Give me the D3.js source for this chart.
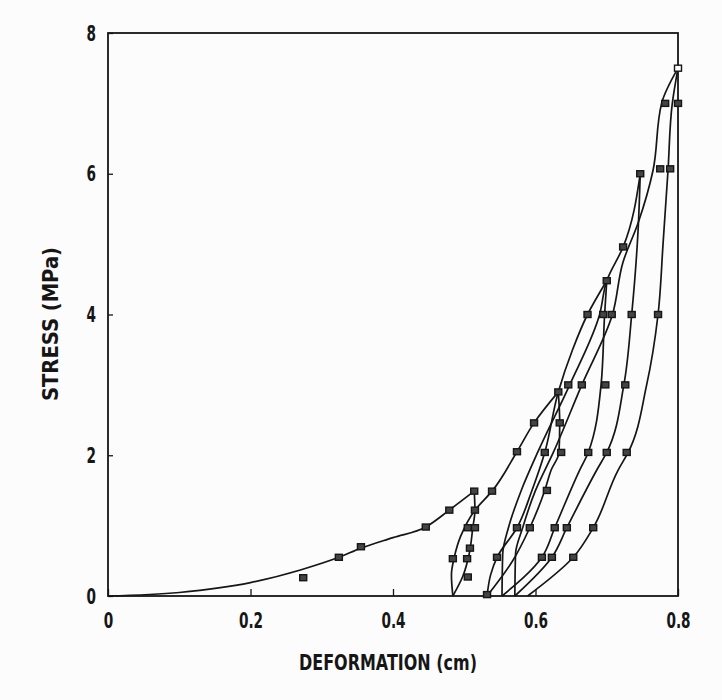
<!DOCTYPE html>
<html>
<head>
<meta charset="utf-8">
<script src="https://cdn.jsdelivr.net/npm/d3@7"></script>
<style>
  body { margin: 0; background: #fcfcfc; }
  svg { display: block; }
</style>
</head>
<body>
<svg id="chart"></svg>
<script>
var w = 722; // Width of the SVG element
var h = 700; // Height of the SVG element
var margin = { top: 33, right: 44, bottom: 104, left: 108 };

// tick values
const xTicks = [0, 0.2, 0.4, 0.6, 0.8];
const yTicks = [0, 2, 4, 6, 8];

// curves, [deformation (cm), stress (MPa)]
const initialLoading = [[0, 0], [0.1, 0.05], [0.2, 0.19], [0.27, 0.37], [0.324, 0.55], [0.355, 0.68], [0.40, 0.83], [0.446, 0.98], [0.479, 1.22], [0.514, 1.49]];
const unload1 = [[0.514, 1.49], [0.515, 1.22], [0.512, 0.97], [0.507, 0.6], [0.498, 0.28], [0.484, 0]];
const reload1 = [[0.484, 0], [0.482, 0.3], [0.486, 0.55], [0.495, 0.85], [0.515, 1.22], [0.539, 1.49], [0.574, 2.05], [0.598, 2.46], [0.632, 2.9]];
const unload2 = [[0.632, 2.9], [0.634, 2.46], [0.633, 2.04], [0.622, 1.79], [0.613, 1.5], [0.592, 0.97], [0.568, 0.5], [0.532, 0]];
const reload2 = [[0.532, 0], [0.537, 0.3], [0.546, 0.55], [0.574, 0.97], [0.595, 1.5], [0.613, 2.04], [0.632, 2.9], [0.652, 3.5], [0.673, 4.0], [0.70, 4.48]];
const unload3 = [[0.70, 4.48], [0.697, 4.0], [0.692, 3.0], [0.674, 2.04], [0.662, 1.79], [0.627, 0.97], [0.609, 0.55], [0.553, 0]];
const reload3 = [[0.553, 0], [0.554, 0.6], [0.562, 0.97], [0.58, 1.5], [0.603, 2.04], [0.648, 3.0], [0.69, 4.0], [0.70, 4.48], [0.723, 4.96], [0.747, 6.0]];
const unload4 = [[0.747, 6.0], [0.744, 5.2], [0.735, 4.0], [0.724, 3.0], [0.70, 2.04], [0.686, 1.79], [0.644, 0.97], [0.623, 0.55], [0.571, 0]];
const reload4 = [[0.571, 0], [0.572, 0.6], [0.582, 0.97], [0.60, 1.5], [0.625, 2.04], [0.665, 3.0], [0.708, 4.0], [0.723, 4.75], [0.744, 5.3], [0.765, 6.05], [0.777, 7.0], [0.80, 7.5]];
const unload5 = [[0.80, 7.5], [0.792, 7.0], [0.786, 6.05], [0.779, 5.0], [0.772, 4.0], [0.756, 3.0], [0.73, 2.04], [0.716, 1.79], [0.681, 0.97], [0.653, 0.55], [0.589, 0]];

// measured points (square markers)
const dataPoints = [
  [0.274, 0.26], [0.324, 0.55], [0.355, 0.70], [0.446, 0.98], [0.479, 1.22], [0.514, 1.49],
  [0.515, 1.22], [0.505, 0.97], [0.515, 0.97], [0.508, 0.68], [0.484, 0.53], [0.504, 0.53], [0.505, 0.27],
  [0.539, 1.49], [0.574, 2.05], [0.598, 2.46], [0.632, 2.9],
  [0.532, 0.02],
  [0.546, 0.55], [0.609, 0.55], [0.623, 0.55], [0.653, 0.55],
  [0.574, 0.97], [0.592, 0.97], [0.627, 0.97], [0.644, 0.97], [0.681, 0.97],
  [0.616, 1.5],
  [0.613, 2.04], [0.636, 2.04], [0.674, 2.04], [0.700, 2.04], [0.728, 2.04],
  [0.634, 2.46],
  [0.646, 3.0], [0.665, 3.0], [0.698, 3.0], [0.726, 3.0],
  [0.673, 4.0], [0.695, 4.0], [0.707, 4.0], [0.735, 4.0], [0.772, 4.0],
  [0.70, 4.48],
  [0.723, 4.96],
  [0.747, 6.0], [0.775, 6.07], [0.789, 6.07],
  [0.782, 7.0], [0.80, 7.0],
  [0.80, 7.5]
];

var cycles = [unload1, reload1, unload2, reload2, unload3, reload3, unload4, reload4, unload5];

var ink = "#161616";
var fontFam = "'DejaVu Sans', sans-serif";

var svg = d3.select("#chart")
  .attr("width", w)
  .attr("height", h);

svg.append("rect")
  .attr("width", w)
  .attr("height", h)
  .attr("fill", "#fcfcfc");

// scales
var x = d3.scaleLinear()
  .domain([0, 0.8])
  .range([margin.left, w - margin.right]);

var y = d3.scaleLinear()
  .domain([0, 8])
  .range([h - margin.bottom, margin.top]);

// x axis, ticks pointing inside
var xAxis = svg.append("g")
  .attr("transform", `translate(0,${h - margin.bottom})`)
  .call(d3.axisBottom(x)
    .tickValues(xTicks)
    .tickSize(-7)
    .tickPadding(12)
    .tickFormat(d => d === 0 ? "0" : d3.format(".1f")(d)));

// y axis
var yAxis = svg.append("g")
  .attr("transform", `translate(${margin.left},0)`)
  .call(d3.axisLeft(y)
    .tickValues(yTicks)
    .tickSize(-5)
    .tickPadding(12)
    .tickFormat(d3.format("d")));

svg.selectAll(".domain").remove();

svg.selectAll(".tick line")
  .attr("stroke", ink)
  .attr("stroke-width", 1.3);

xAxis.selectAll("text")
  .attr("y", 16)
  .attr("dy", "0.71em")
  .attr("transform", "scale(0.62,1)")
  .style("font-family", fontFam)
  .style("font-weight", "bold")
  .style("font-size", "22px")
  .attr("fill", ink);

yAxis.selectAll("text")
  .attr("x", -12 / 0.62)
  .attr("transform", "scale(0.62,1)")
  .style("font-family", fontFam)
  .style("font-weight", "bold")
  .style("font-size", "22px")
  .attr("fill", ink);

// frame
svg.append("rect")
  .attr("x", x(0))
  .attr("y", y(8))
  .attr("width", x(0.8) - x(0))
  .attr("height", y(0) - y(8))
  .attr("fill", "none")
  .attr("stroke", ink)
  .attr("stroke-width", 1.8);

// first loading curve
var loadLine = d3.line()
  .x(d => x(d[0]))
  .y(d => y(d[1]))
  .curve(d3.curveMonotoneX);

svg.append("path")
  .datum(initialLoading)
  .attr("d", loadLine)
  .attr("fill", "none")
  .attr("stroke", ink)
  .attr("stroke-width", 1.7);

// unloading / reloading curves, drawn from low to high stress so the spline stays monotone
var line = d3.line()
  .x(d => x(d[0]))
  .y(d => y(d[1]))
  .curve(d3.curveMonotoneY);

svg.append("g")
  .selectAll("path")
  .data(cycles.map(c => c[0][1] > c[c.length - 1][1] ? c.slice().reverse() : c))
  .enter()
  .append("path")
  .attr("d", line)
  .attr("fill", "none")
  .attr("stroke", ink)
  .attr("stroke-width", 1.7);

// markers
svg.append("g")
  .selectAll("rect")
  .data(dataPoints)
  .enter()
  .append("rect")
  .attr("x", d => x(d[0]) - 3.5)
  .attr("y", d => y(d[1]) - 3)
  .attr("width", 7)
  .attr("height", 6)
  .attr("fill", d => d[1] >= 7.4 ? "#fcfcfc" : "#444")
  .attr("stroke", ink)
  .attr("stroke-width", 1.4);

// axis labels
svg.append("text")
  .attr("x", 388)
  .attr("y", 670)
  .attr("text-anchor", "middle")
  .attr("textLength", 178)
  .attr("lengthAdjust", "spacingAndGlyphs")
  .style("font-family", fontFam)
  .style("font-weight", "bold")
  .style("font-size", "22px")
  .attr("fill", ink)
  .text("DEFORMATION (cm)");

svg.append("text")
  .attr("transform", "translate(58,324) rotate(-90)")
  .attr("text-anchor", "middle")
  .attr("textLength", 154)
  .attr("lengthAdjust", "spacingAndGlyphs")
  .style("font-family", fontFam)
  .style("font-weight", "bold")
  .style("font-size", "22px")
  .attr("fill", ink)
  .text("STRESS (MPa)");
</script>
</body>
</html>
